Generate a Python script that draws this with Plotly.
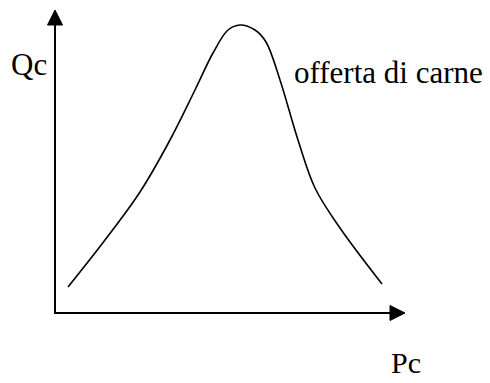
import plotly.graph_objects as go

# Supply curve for meat: price (Pc) on the horizontal axis, quantity (Qc) vertical
pc = [1.3, 5.0, 8.5, 11.5, 14.0, 15.8, 17.3, 18.5, 20.0, 21.1, 22.5, 24.3, 26.0, 28.5, 32.7]
qc = [2.6, 7.3, 12.1, 17.3, 22.3, 26.0, 28.3, 28.8, 28.3, 27.1, 23.3, 17.3, 12.5, 8.5, 2.9]

x_axis_end = 35.0   # tip of the Pc arrow
y_axis_end = 30.3   # tip of the Qc arrow
head_len = 1.5      # arrowhead length (data units)
head_half = 0.75    # arrowhead half-width (data units)

ink = "black"
serif = "Liberation Serif, Times New Roman, serif"

fig = go.Figure()

# axes lines
fig.add_trace(go.Scatter(x=[0, 0, x_axis_end - head_len], y=[y_axis_end - head_len, 0, 0],
                         mode="lines", line=dict(color=ink, width=2), hoverinfo="skip"))
# arrowheads
fig.add_trace(go.Scatter(x=[-head_half, head_half, 0, -head_half],
                         y=[y_axis_end - head_len, y_axis_end - head_len, y_axis_end, y_axis_end - head_len],
                         mode="lines", fill="toself", fillcolor=ink,
                         line=dict(color=ink, width=1), hoverinfo="skip"))
fig.add_trace(go.Scatter(x=[x_axis_end - head_len, x_axis_end - head_len, x_axis_end, x_axis_end - head_len],
                         y=[-head_half, head_half, 0, -head_half],
                         mode="lines", fill="toself", fillcolor=ink,
                         line=dict(color=ink, width=1), hoverinfo="skip"))

# the curve
fig.add_trace(go.Scatter(x=pc, y=qc, mode="lines",
                         line=dict(color=ink, width=1.6, shape="spline", smoothing=1.0),
                         hoverinfo="skip"))

fig.add_annotation(x=-0.65, y=24.9, text="Qc", showarrow=False, xanchor="right", yanchor="middle",
                   font=dict(family=serif, size=31, color=ink))
fig.add_annotation(x=23.7, y=24.1, text="offerta di carne", showarrow=False, xanchor="left",
                   yanchor="middle", font=dict(family=serif, size=31, color=ink))
fig.add_annotation(x=33.4, y=-4.9, text="Pc", showarrow=False, xanchor="left", yanchor="middle",
                   font=dict(family=serif, size=30, color=ink))

fig.update_layout(
    width=490, height=383,
    margin=dict(l=0, r=0, t=0, b=0),
    paper_bgcolor="white", plot_bgcolor="white",
    showlegend=False,
    xaxis=dict(range=[-5.5, 43.5], visible=False, fixedrange=True),
    yaxis=dict(range=[-7.0, 31.3], visible=False, fixedrange=True),
)

fig.write_html("out.html")
